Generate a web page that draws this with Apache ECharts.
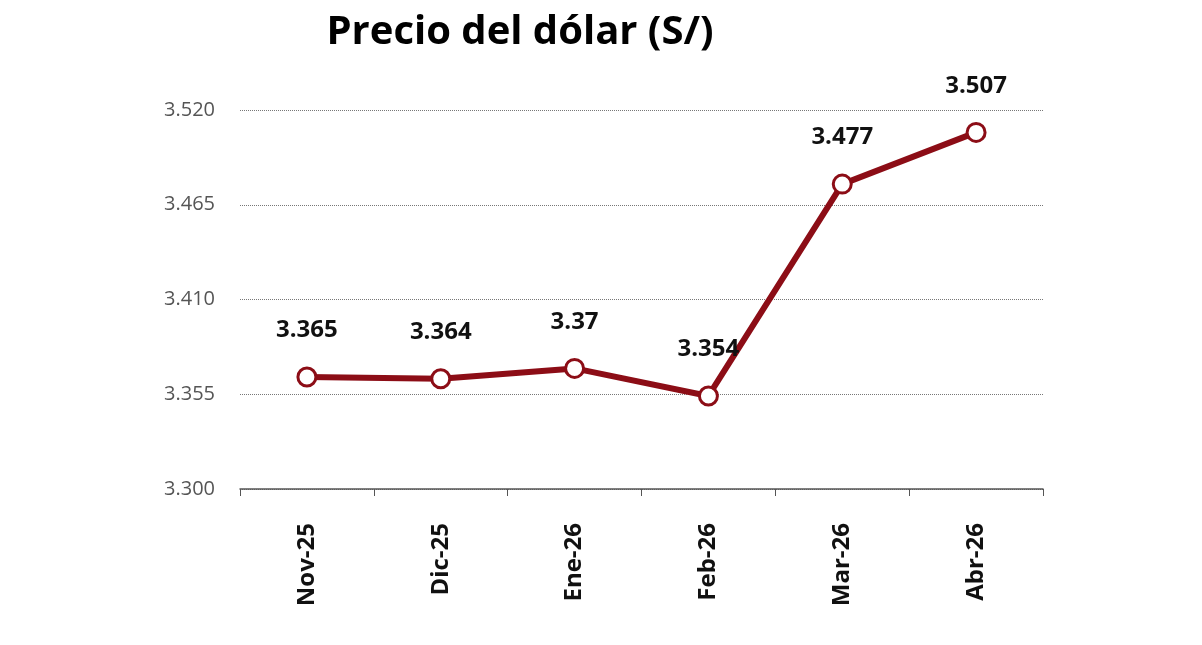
<!DOCTYPE html>
<html><head><meta charset="utf-8">
<script src="https://cdn.jsdelivr.net/npm/echarts@6/dist/echarts.min.js"></script>
<style>html,body{margin:0;padding:0;background:#fff}#c{width:1202px;height:645px}</style>
</head><body><div id="c"></div>
<script>
const categories = ["Nov-25","Dic-25","Ene-26","Feb-26","Mar-26","Abr-26"];
const values = [3.365,3.364,3.37,3.354,3.477,3.507];
const labels = ["3.365","3.364","3.37","3.354","3.477","3.507"];
const chart = echarts.init(document.getElementById('c'));
chart.setOption({
  backgroundColor:'#fff',
  title:{text:'Precio del dólar (S/)',left:515,textAlign:'center',top:8,
    textStyle:{fontFamily:'Open Sans',fontWeight:'bold',fontSize:40,color:'#000'}},
  grid:{left:240,right:159,top:110,bottom:156},
  xAxis:{type:'category',data:categories,boundaryGap:true,
    axisLine:{lineStyle:{color:'#555',width:1.5}},
    axisTick:{show:true,alignWithLabel:false,length:7,lineStyle:{color:'#555'}},
    axisLabel:{rotate:90,margin:34,fontFamily:'Open Sans',fontWeight:'bold',fontSize:24,color:'#111'}},
  yAxis:{type:'value',min:3.3,max:3.52,interval:0.055,
    axisLine:{show:false},axisTick:{show:false},
    splitLine:{lineStyle:{type:'dotted',color:'#777',width:1}},
    axisLabel:{margin:25,fontFamily:'Open Sans',fontSize:20,color:'#555',formatter:v=>v.toFixed(3)}},
  series:[{type:'line',data:values,symbol:'circle',symbolSize:18,
    lineStyle:{color:'#8c0d16',width:6},
    itemStyle:{color:'#fff',borderColor:'#8c0d16',borderWidth:3},
    label:{show:true,position:'top',distance:24,formatter:p=>labels[p.dataIndex],
      fontFamily:'Open Sans',fontWeight:'bold',fontSize:24,color:'#111'}}]
});
</script></body></html>
